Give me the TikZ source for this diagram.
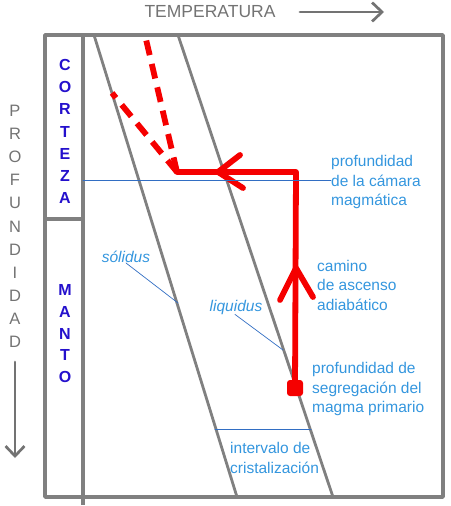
\documentclass[tikz,border=0pt]{standalone}
\usepackage{fontspec}
\setmainfont{Liberation Sans}
\usetikzlibrary{arrows.meta}
\definecolor{gris}{RGB}{128,128,128}
\definecolor{grist}{RGB}{115,115,115}
\definecolor{rojoc}{RGB}{245,0,0}
\definecolor{azul}{RGB}{52,150,222}
\definecolor{azulg}{RGB}{50,110,195}
\definecolor{azulo}{RGB}{36,16,204}
\begin{document}
\begin{tikzpicture}[x=1pt,y=-1pt,line cap=round,line join=round,
  marco/.style={gris,line width=3.8pt,line cap=butt},
  curva/.style={gris,line width=2.8pt},
  flecha/.style={grist,line width=2.7pt,-{Straight Barb[length=10pt,width=19pt]}},
  rojo/.style={rojoc,line width=5.8pt},
  rojotr/.style={rojoc,line width=5.8pt,line cap=butt,dash pattern=on 15pt off 9pt},
  guia/.style={azulg,line width=0.7pt},
  txt/.style={azul,inner sep=0pt,align=left,font=\fontsize{15.5}{19.5}\selectfont},
  gristxt/.style={grist,inner sep=0pt,font=\fontsize{16.5}{19.5}\selectfont},
  letra/.style={azulo,inner sep=0pt,font=\fontsize{16}{19.5}\selectfont\bfseries}]
\useasboundingbox (0,0) rectangle (450,506);
% marco
\draw[marco] (45,35) rectangle (443,497);
\draw[marco] (83,35) -- (83,505);
\draw[marco] (45,219) -- (83,219);
% solidus y liquidus
\draw[curva] (94,35) -- (237,497);
\draw[curva] (178,35) -- (333,497);
% ejes
\node[gristxt,font=\fontsize{17.5}{19.5}\selectfont] (temp) at (210,12) {TEMPERATURA};
\coordinate (t1) at (300,12);
\coordinate (t2) at (384,12);
\draw[flecha] (t1) -- (t2);
\foreach \l [count=\i from 0] in {P,R,O,F,U,N,D,I,D,A,D}
  \node[gristxt] (p\i) at (15,111+23.1*\i) {\l};
\coordinate (d1) at (15,362);
\coordinate (d2) at (15,458);
\draw[flecha] (d1) -- (d2);
% corteza y manto
\foreach \l [count=\i from 0] in {C,O,R,T,E,Z,A}
  \node[letra] (c\i) at (65,65+22.2*\i) {\l};
\foreach \l [count=\i from 0] in {M,A,N,T,O}
  \node[letra] (m\i) at (65,290+21.8*\i) {\l};
% camino del magma
\coordinate (seg) at (295,388);
\coordinate (esq) at (296,172);
\coordinate (cam) at (177,172);
\draw[rojo] (seg) -- (esq) -- (cam);
\draw[rojo] (280,300) -- (296,268) -- (313,297);
\draw[rojo] (240,155) -- (218,172) -- (243,188);
\fill[rojoc,rounded corners=3pt] (287,380) rectangle (303,396);
\draw[rojotr] (cam) -- (145,35);
\draw[rojotr] (cam) -- (112,93);
% textos
\node[txt,anchor=west] (camara) at (331,182) {profundidad\\de la cámara\\magmática};
\coordinate (mc) at (83,180);
\draw[guia] (mc) -- (mc -| camara.west);
\node[txt,anchor=west] (camino) at (317,285) {camino\\de ascenso\\adiabático};
\node[txt,anchor=west] (segreg) at (312,389) {profundidad de\\segregación del\\magma primario};
\node[txt,font=\fontsize{15.5}{19.5}\selectfont\itshape] (sol) at (126,257) {sólidus};
\coordinate (solp) at (178,303);
\draw[guia] (sol.south) -- (solp);
\node[txt,font=\fontsize{15.5}{19.5}\selectfont\itshape] (liq) at (236,307) {liquidus};
\coordinate (liqp) at (283,350);
\draw[guia] (liq.south) ++(-1,0) -- (liqp);
\coordinate (ia) at (215,429);
\coordinate (ib) at (311,429);
\draw[guia] (ia) -- (ib);
\node[txt,anchor=west] (interv) at (230,458) {intervalo de\\cristalización};
\end{tikzpicture}
\end{document}
